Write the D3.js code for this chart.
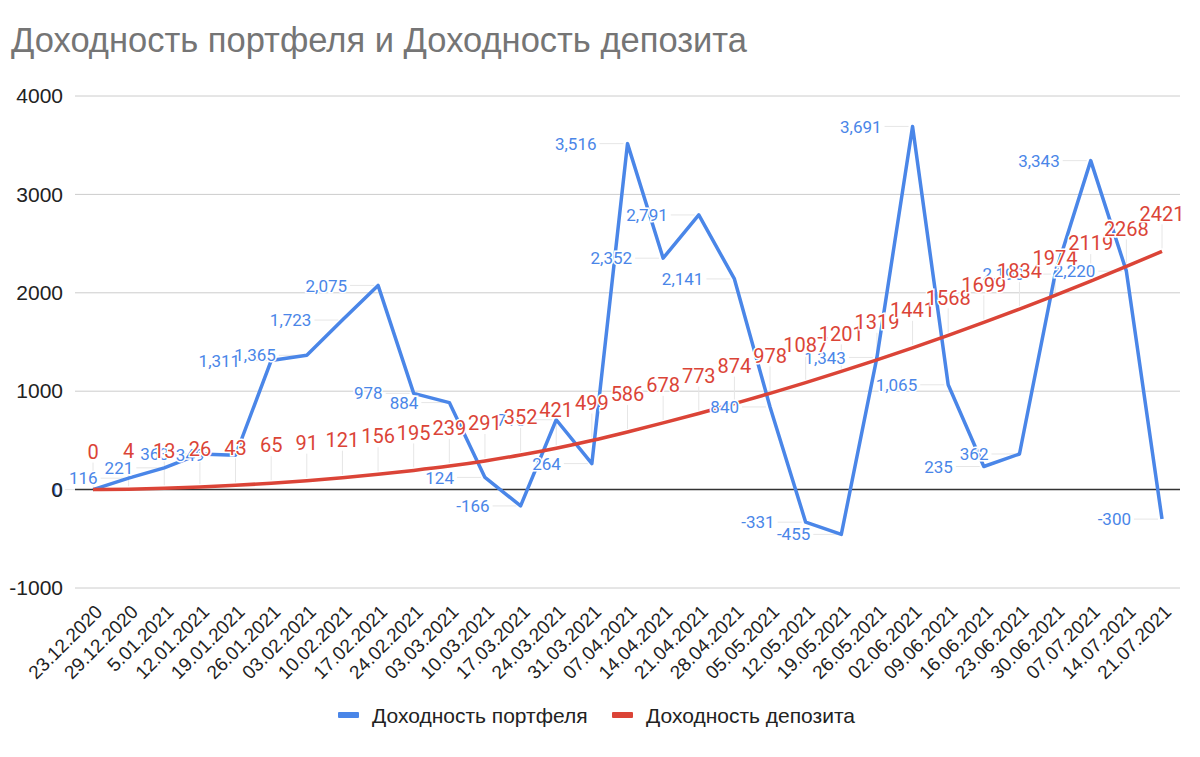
<!DOCTYPE html>
<html>
<head>
<meta charset="utf-8">
<script src="https://cdn.jsdelivr.net/npm/d3@7"></script>
<style>
  body { margin: 0; background: #fff; }
  svg { display: block; }
</style>
</head>
<body>
<svg id="chart"></svg>
<script>
const dates = ["23.12.2020","29.12.2020","5.01.2021","12.01.2021","19.01.2021","26.01.2021","03.02.2021",
  "10.02.2021","17.02.2021","24.02.2021","03.03.2021","10.03.2021","17.03.2021","24.03.2021","31.03.2021",
  "07.04.2021","14.04.2021","21.04.2021","28.04.2021","05.05.2021","12.05.2021","19.05.2021","26.05.2021",
  "02.06.2021","09.06.2021","16.06.2021","23.06.2021","30.06.2021","07.07.2021","14.07.2021","21.07.2021"];

const portfolio = [0, 116, 221, 363, 349, 1311, 1365, 1723, 2075, 978, 884, 124, -166, 710, 264,
  3516, 2352, 2791, 2141, 840, -331, -455, 1343, 3691, 1065, 235, 362, 2190, 3343, 2220, -300];

const deposit = [0, 4, 13, 26, 43, 65, 91, 121, 156, 195, 239, 291, 352, 421, 499,
  586, 678, 773, 874, 978, 1087, 1201, 1319, 1441, 1568, 1699, 1834, 1974, 2119, 2268, 2421];

const yTicks = [-1000, 0, 1000, 2000, 3000, 4000];

const seriesNames = ["Доходность портфеля", "Доходность депозита"];
const blue = "#4a86e8";
const red = "#db4437";

const W = 1200, H = 757;
const svg = d3.select("#chart").attr("width", W).attr("height", H);

const x = d3.scalePoint().domain(dates).range([93, 1162]);
const y = d3.scaleLinear().domain([-1000, 4000]).range([588, 96]);

// plain hyphen instead of the unicode minus d3 uses
const fmtPlain = v => d3.format("d")(v).replace("\u2212", "-");
const fmt = v => d3.format(",")(v).replace("\u2212", "-");

// title
svg.append("text")
  .attr("x", 11).attr("y", 52)
  .style("font-family", "'Liberation Sans', Arial, sans-serif")
  .style("font-size", "34.5px")
  .style("fill", "#757575")
  .text("Доходность портфеля и Доходность депозита");

// gridlines
svg.append("g").selectAll("line")
  .data(yTicks.filter(d => d !== 0))
  .enter().append("line")
  .attr("x1", 75).attr("x2", 1180)
  .attr("y1", d => y(d)).attr("y2", d => y(d))
  .attr("stroke", "#cccccc").attr("stroke-width", 1);

// x axis labels (rotated)
const xAxis = svg.append("g")
  .attr("transform", "translate(0,589)")
  .call(d3.axisBottom(x).tickSize(0).tickPadding(0));
xAxis.select(".domain").remove();
xAxis.selectAll("text")
  .style("font-family", "'Liberation Sans', Arial, sans-serif")
  .style("font-size", "19px")
  .style("fill", "#222")
  .style("text-anchor", "end")
  .attr("y", 0).attr("dy", 0)
  .attr("transform", "translate(10,24) rotate(-45)");

// leader lines for labels
const leaders = svg.append("g").attr("stroke", "#e6e6e6").attr("stroke-width", 1);
dates.forEach((d, i) => {
  leaders.append("line")
    .attr("x1", x(d) - 28).attr("x2", x(d) - 4)
    .attr("y1", y(portfolio[i])).attr("y2", y(portfolio[i]));
  leaders.append("line")
    .attr("x1", x(d)).attr("x2", x(d))
    .attr("y1", y(deposit[i]) - 27).attr("y2", y(deposit[i]) - 3);
});

// zero line
svg.append("line")
  .attr("x1", 75).attr("x2", 1180)
  .attr("y1", y(0)).attr("y2", y(0))
  .attr("stroke", "#333").attr("stroke-width", 1.5);

// lines
const linePortfolio = d3.line()
  .x((d, i) => x(dates[i]))
  .y(d => y(d));
const lineDeposit = d3.line()
  .x((d, i) => x(dates[i]))
  .y(d => y(d))
  .curve(d3.curveMonotoneX);

svg.append("path")
  .datum(portfolio)
  .attr("d", linePortfolio)
  .attr("fill", "none")
  .attr("stroke", blue)
  .attr("stroke-width", 3.5)
  .attr("stroke-linejoin", "round");

svg.append("path")
  .datum(deposit)
  .attr("d", lineDeposit)
  .attr("fill", "none")
  .attr("stroke", red)
  .attr("stroke-width", 3.5);

// data labels
svg.append("g").selectAll("text")
  .data(portfolio)
  .enter().append("text")
  .attr("x", (d, i) => x(dates[i]) - 31)
  .attr("y", d => y(d))
  .attr("dy", "0.36em")
  .style("text-anchor", "end")
  .style("font-family", "Roboto, sans-serif")
  .style("font-size", "17px")
  .style("fill", blue)
  .style("stroke", "#fff")
  .style("stroke-width", 3)
  .style("paint-order", "stroke")
  .text(d => fmt(d));

svg.append("g").selectAll("text")
  .data(deposit)
  .enter().append("text")
  .attr("x", (d, i) => x(dates[i]))
  .attr("y", d => y(d) - 38)
  .attr("dy", "0.36em")
  .style("text-anchor", "middle")
  .style("font-family", "Roboto, sans-serif")
  .style("font-size", "20px")
  .style("fill", red)
  .style("stroke", "#fff")
  .style("stroke-width", 3)
  .style("paint-order", "stroke")
  .text(d => d);

// y axis labels (drawn last so the black 0 sits over the blue one)
const yAxis = svg.append("g")
  .attr("transform", "translate(63,0)")
  .call(d3.axisLeft(y).tickValues(yTicks).tickSize(0).tickPadding(0).tickFormat(fmtPlain));
yAxis.select(".domain").remove();
yAxis.selectAll("text")
  .style("font-family", "'Liberation Sans', Arial, sans-serif")
  .style("font-size", "21px")
  .style("fill", "#222");

// legend
const legend = svg.append("g");
const legendItems = [
  { name: seriesNames[0], color: blue, x: 338 },
  { name: seriesNames[1], color: red, x: 612 }
];
legendItems.forEach(it => {
  legend.append("rect")
    .attr("x", it.x).attr("y", 712)
    .attr("width", 21).attr("height", 6)
    .attr("rx", 1)
    .attr("fill", it.color);
  legend.append("text")
    .attr("x", it.x + 34).attr("y", 723)
    .style("font-family", "'Liberation Sans', Arial, sans-serif")
    .style("font-size", "21px")
    .style("fill", "#222")
    .text(it.name);
});
</script>
</body>
</html>
